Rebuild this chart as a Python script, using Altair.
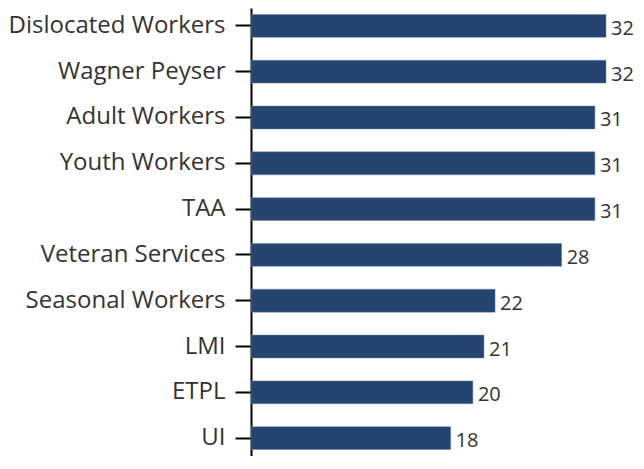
import altair as alt
import pandas as pd

categories = ["Dislocated Workers", "Wagner Peyser", "Adult Workers", "Youth Workers", "TAA",
              "Veteran Services", "Seasonal Workers", "LMI", "ETPL", "UI"]
values = [32, 32, 31, 31, 31, 28, 22, 21, 20, 18]

df = pd.DataFrame({"cat": categories, "val": values})

base = alt.Chart(df).encode(
    y=alt.Y("cat:N", sort=None, title=None,
            scale=alt.Scale(paddingInner=0.5, paddingOuter=0.14),
            axis=alt.Axis(labelFont="Open Sans", labelFontSize=24, labelColor="#333333",
                          labelPadding=10, tickSize=16, tickColor="#000000", tickWidth=2,
                          domainColor="#000000", domainWidth=2, labelLimit=400)),
    x=alt.X("val:Q", title=None, scale=alt.Scale(domain=[0, 32], nice=False),
            axis=None),
)

bars = base.mark_bar(color="#25446f", stroke="#6e86a8", strokeWidth=0.5)
labels = base.mark_text(align="left", baseline="middle", dx=5, dy=3,
                        font="Open Sans", fontSize=20, color="#333333").encode(text="val:Q")

chart = (bars + labels).properties(width=355, height=448, padding=0).configure_view(stroke=None)

chart.save("out.html", embed_options={"renderer": "svg", "actions": False})
